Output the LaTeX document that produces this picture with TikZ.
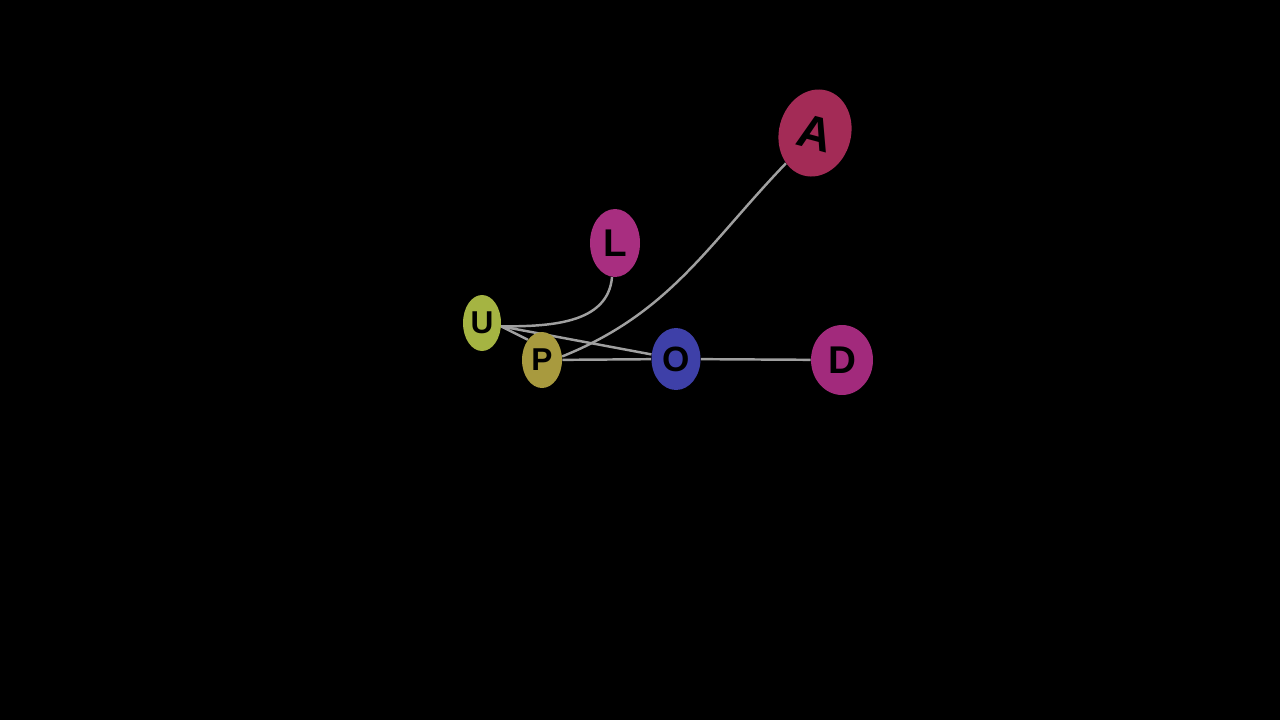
\documentclass[tikz,border=0pt]{standalone}
\usepackage{fontspec}
\setmainfont{Liberation Sans}
\usepackage{tikz}
\usetikzlibrary{shapes.geometric}
\pgfdeclarelayer{bg}
\pgfsetlayers{bg,main}

\definecolor{ucol}{RGB}{165,180,66}
\definecolor{pcol}{RGB}{168,154,62}
\definecolor{lcol}{RGB}{168,46,128}
\definecolor{acol}{RGB}{163,43,86}
\definecolor{ocol}{RGB}{62,64,168}
\definecolor{dcol}{RGB}{162,42,124}
\definecolor{edgecol}{RGB}{160,160,160}

\tikzset{
  vert/.style={ellipse, inner sep=0pt, text=black, font=\bfseries},
  link/.style={draw=edgecol, line width=1.4pt}
}

\begin{document}
\begin{tikzpicture}[x=0.02cm, y=-0.02cm]

	% black page
	\begin{pgfonlayer}{bg}
		\fill[black] (0,0) rectangle (1280,720);
	\end{pgfonlayer}
	\useasboundingbox (0,0) rectangle (1280,720);

	% letters
	\node[vert, fill=ucol, minimum width=0.76cm, minimum height=1.12cm, font=\bfseries\fontsize{18}{18}\selectfont] (U) at (482,323) {U};
	\node[vert, fill=pcol, minimum width=0.80cm, minimum height=1.12cm, font=\bfseries\fontsize{18}{18}\selectfont] (P) at (542,360) {P};
	\node[vert, fill=lcol, minimum width=1.00cm, minimum height=1.36cm, font=\bfseries\fontsize{22}{22}\selectfont] (L) at (615,243) {L};
	\node[vert, fill=ocol, minimum width=0.98cm, minimum height=1.24cm, font=\bfseries\fontsize{20}{20}\selectfont] (O) at (676,359) {O};
	\node[vert, fill=dcol, minimum width=1.24cm, minimum height=1.40cm, font=\bfseries\fontsize{22}{22}\selectfont] (D) at (842,360) {D};
	\node[vert, fill=acol, minimum width=1.44cm, minimum height=1.76cm, rotate=-15, font=\bfseries\fontsize{27}{27}\selectfont] (A) at (815,133) {A};

	% links
	\begin{pgfonlayer}{bg}
		\draw[link] (U.-10) to[out=0, in=-95] (L);
		\draw[link] (U.-10) -- (O);
		\draw[link] (U.-10) -- (P.125);
		\draw[link] (P) -- (O);
		\draw[link] (P.10) to[out=22, in=-130] (A);
		\draw[link] (O) -- (D);
	\end{pgfonlayer}

\end{tikzpicture}
\end{document}
